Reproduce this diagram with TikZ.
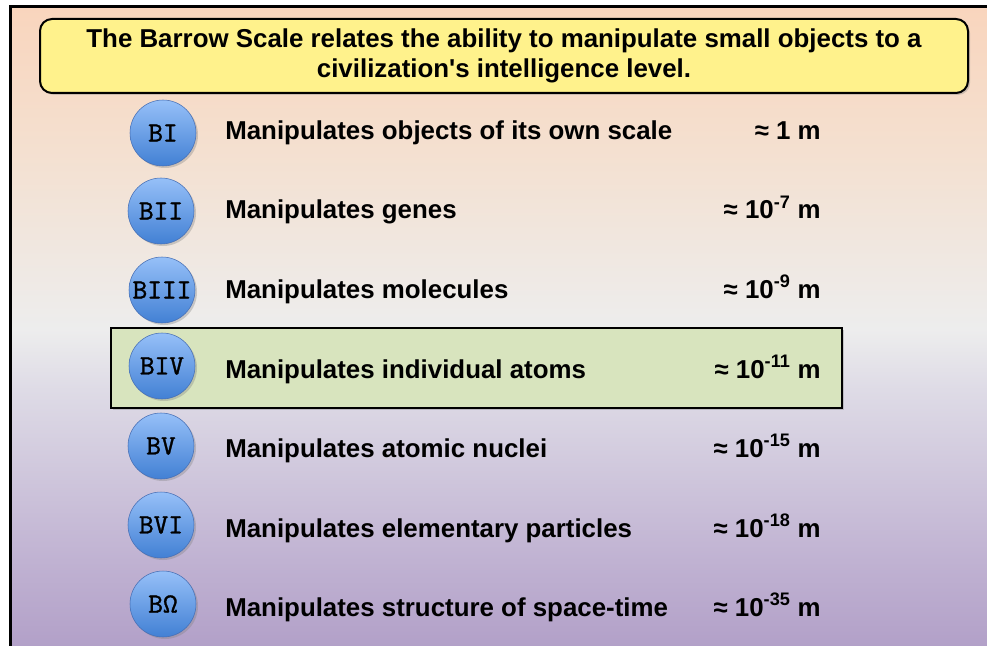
\documentclass[tikz,border=0pt]{standalone}
\usepackage{fontspec}
\setmainfont{Liberation Sans}
\newfontfamily\badgefont{lmmono10-regular}[Extension=.otf, FakeBold=1.1]
\usetikzlibrary{shadows}
\definecolor{titlefill}{RGB}{255,242,140}
\definecolor{hlfill}{RGB}{216,228,190}
\definecolor{ctop}{RGB}{150,192,248}
\definecolor{cbot}{RGB}{66,128,212}
\definecolor{cedge}{RGB}{70,110,180}
\definecolor{g1}{RGB}{178,160,200}
\definecolor{g2}{RGB}{192,178,210}
\definecolor{g3}{RGB}{222,219,230}
\definecolor{g4}{RGB}{237,237,237}
\definecolor{g5}{RGB}{244,224,208}
\definecolor{g6}{RGB}{249,213,189}
\pgfdeclareverticalshading{bgshade}{100bp}{color(0bp)=(g1); color(26bp)=(g1); color(32.6bp)=(g2); color(45.7bp)=(g3); color(50.3bp)=(g4); color(64bp)=(g5); color(75bp)=(g6); color(100bp)=(g6)}
\tikzset{
  softshadow/.style={drop shadow={shadow xshift=1.5pt, shadow yshift=-1.5pt, opacity=0.35}},
  badge/.style={circle, minimum size=49.5pt, inner sep=0pt, top color=ctop, bottom color=cbot,
    draw=cedge, line width=0.4pt, softshadow, font=\fontsize{21}{24}\selectfont\badgefont},
  rowtext/.style={anchor=base west, inner sep=0pt, font=\fontsize{19.4}{23}\selectfont\bfseries},
  valtext/.style={anchor=base east, inner sep=0pt, font=\fontsize{19.4}{23}\selectfont\bfseries},
}
\newcommand{\sq}[1]{\textsuperscript{#1}}
\begin{document}
\begin{tikzpicture}[x=0.75pt,y=-0.75pt]
\useasboundingbox (0,0) rectangle (987,645);
\begin{scope}
\clip (0,0) rectangle (987,645);
\shade[shading=bgshade] (10.5,6.5) rectangle (1000,660);
\draw[line width=2.4pt] (10.5,700) -- (10.5,6.5) -- (1000,6.5);
\end{scope}
\node[draw, line width=1.5pt, fill=titlefill, rounded corners=9pt, softshadow,
  minimum width=696pt, minimum height=55.5pt, align=center,
  font=\fontsize{19.4}{22.5}\selectfont\bfseries] (title) at (504,56)
  {The Barrow Scale relates the ability to manipulate small objects to a\\civilization\textquotesingle s intelligence level.};
\node[draw, line width=1.5pt, fill=hlfill, softshadow, minimum width=548pt, minimum height=60pt] (hl) at (476.5,368) {};
\node[badge] (c1) at (163,133) {BI};
\node[badge] (c2) at (161,211) {BII};
\node[badge] (c3) at (162,290) {BIII};
\node[badge] (c4) at (162,366) {BIV};
\node[badge] (c5) at (161,446) {BV};
\node[badge] (c6) at (161,525) {BVI};
\node[badge] (c7) at (163,604) {BΩ};
\node[rowtext] (t1) at (225,140) {Manipulates objects of its own scale};
\node[rowtext] (t2) at (225,219) {Manipulates genes};
\node[rowtext] (t3) at (225,298) {Manipulates molecules};
\node[rowtext] (t4) at (225,378) {Manipulates individual atoms};
\node[rowtext] (t5) at (225,457) {Manipulates atomic nuclei};
\node[rowtext] (t6) at (225,537) {Manipulates elementary particles};
\node[rowtext] (t7) at (225,616) {Manipulates structure of space-time};
\node[valtext] (v1) at (821,140) {≈ 1 m};
\node[valtext] (v2) at (821,219) {≈ 10\sq{-7} m};
\node[valtext] (v3) at (821,298) {≈ 10\sq{-9} m};
\node[valtext] (v4) at (821,378) {≈ 10\sq{-11} m};
\node[valtext] (v5) at (821,457) {≈ 10\sq{-15} m};
\node[valtext] (v6) at (821,537) {≈ 10\sq{-18} m};
\node[valtext] (v7) at (821,616) {≈ 10\sq{-35} m};
\end{tikzpicture}
\end{document}
